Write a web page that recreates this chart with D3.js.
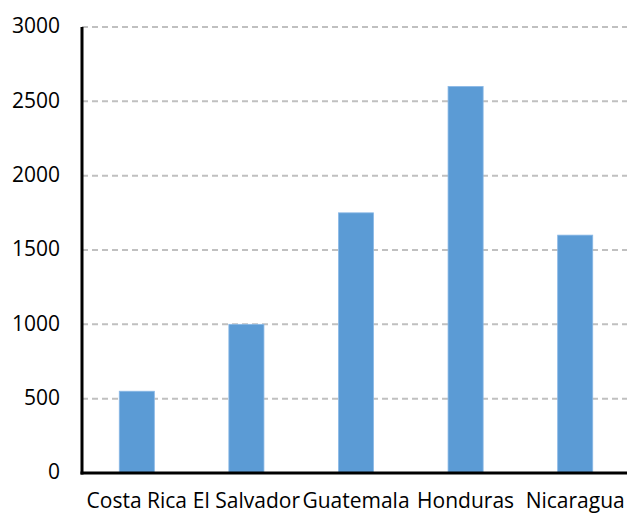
<!DOCTYPE html>
<html>
<head>
<meta charset="utf-8">
<script src="https://cdn.jsdelivr.net/npm/d3@7"></script>
<style>
  body { margin: 0; background: #fff; }
  text { font-family: "Open Sans", sans-serif; fill: #000; }
</style>
</head>
<body>
<div id="chart"></div>
<script>
var countries = ["Costa Rica", "El Salvador", "Guatemala", "Honduras", "Nicaragua"];
var values = [550, 1000, 1750, 2600, 1600];
var yTicks = [0, 500, 1000, 1500, 2000, 2500, 3000];

var W = 627, H = 514;
var margin = {top: 27, right: -3, bottom: 41, left: 82};
var width = W - margin.left - margin.right, height = H - margin.top - margin.bottom;

var svg = d3.select("#chart").append("svg").attr("width", W).attr("height", H);
var g = svg.append("g").attr("transform", "translate(" + margin.left + "," + margin.top + ")");

var x = d3.scaleBand().domain(countries).range([0, width]).paddingInner(0.68).paddingOuter(0.34);
var y = d3.scaleLinear().domain([0, 3000]).range([height, 0]);

// gridlines
g.selectAll(".grid").data(yTicks.filter(function(d) { return d > 0; })).enter().append("line")
  .attr("x1", 0).attr("x2", W - margin.left)
  .attr("y1", function(d) { return y(d); }).attr("y2", function(d) { return y(d); })
  .style("stroke", "#c0c0c0").style("stroke-width", 2).style("stroke-dasharray", "6,4");

// bars
g.selectAll(".bar").data(values).enter().append("rect")
  .attr("x", function(d, i) { return x(countries[i]); })
  .attr("width", x.bandwidth())
  .attr("y", function(d) { return y(d); })
  .attr("height", function(d) { return height - y(d); })
  .style("fill", "#5b9bd5").style("stroke", "#8ab8e6").style("stroke-width", 0.8);

// y axis
var yAxis = g.append("g").call(d3.axisLeft(y).tickValues(yTicks).tickFormat(d3.format("d")).tickSize(0).tickPadding(22));
yAxis.select(".domain").remove();
yAxis.selectAll("text").style("font-size", "21px").style("font-family", "'Open Sans', sans-serif").attr("fill", "#000").attr("dy", "0.28em");

g.append("line").attr("x1", 0).attr("x2", 0).attr("y1", 0).attr("y2", height + 1.5)
  .style("stroke", "#000").style("stroke-width", 3);
g.append("line").attr("x1", -1.5).attr("x2", W - margin.left).attr("y1", height).attr("y2", height)
  .style("stroke", "#000").style("stroke-width", 3);

// x labels
var xAxis = g.append("g").attr("transform", "translate(0," + height + ")")
  .call(d3.axisBottom(x).tickSize(0).tickPadding(20));
xAxis.select(".domain").remove();
xAxis.selectAll("text").style("font-size", "21px").style("font-family", "'Open Sans', sans-serif").attr("fill", "#000");
</script>
</body>
</html>
